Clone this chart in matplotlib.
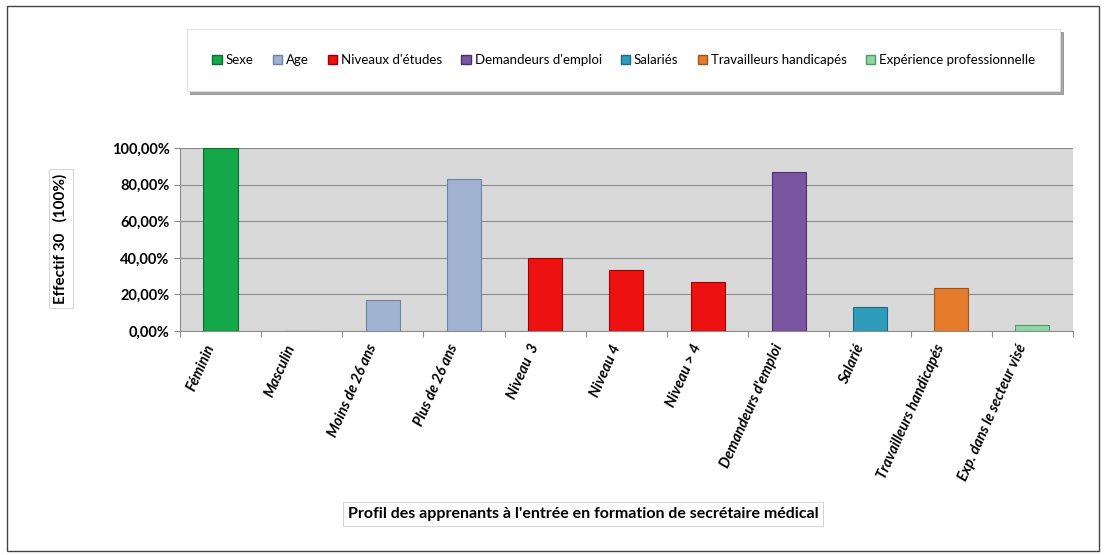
import numpy as np
import matplotlib.pyplot as plt
from matplotlib.patches import Patch, Rectangle
from matplotlib.ticker import FuncFormatter

plt.rcParams['font.family'] = ['Lato', 'DejaVu Sans']

# data
categories = ['Féminin', 'Masculin', 'Moins de 26 ans', 'Plus de 26 ans', 'Niveau  3',
              'Niveau 4', 'Niveau > 4', "Demandeurs d'emploi", 'Salarié',
              'Travailleurs handicapés', 'Exp. dans le secteur visé']
values = [100.0, 0.0, 16.67, 83.33, 40.0, 33.33, 26.67, 86.67, 13.33, 23.33, 3.33]
groups = ['Sexe', 'Sexe', 'Age', 'Age', "Niveaux d'études", "Niveaux d'études",
          "Niveaux d'études", "Demandeurs d'emploi", 'Salariés',
          'Travailleurs handicapés', 'Expérience professionnelle']
group_names = ['Sexe', 'Age', "Niveaux d'études", "Demandeurs d'emploi", 'Salariés',
               'Travailleurs handicapés', 'Expérience professionnelle']
group_colors = {'Sexe': '#14a84a', 'Age': '#9fb2cf', "Niveaux d'études": '#ee1111',
                "Demandeurs d'emploi": '#7a56a0', 'Salariés': '#2f9cbc',
                'Travailleurs handicapés': '#e47c2c', 'Expérience professionnelle': '#8fd6a2'}
edge_colors = {'Sexe': '#0b6e30', 'Age': '#6f82a0', "Niveaux d'études": '#a00000',
               "Demandeurs d'emploi": '#4c3070', 'Salariés': '#1c6a82',
               'Travailleurs handicapés': '#a0541a', 'Expérience professionnelle': '#4f9a64'}

fig = plt.figure(figsize=(11.06, 5.55), dpi=100)
# outer frame
fig.patches.append(Rectangle((0.006, 0.008), 0.988, 0.982, transform=fig.transFigure,
                             fill=False, edgecolor='#444444', linewidth=1))

ax = fig.add_axes([0.1627, 0.4036, 0.8074, 0.3297])
x = np.arange(len(categories))
ax.bar(x, values, width=0.42,
       color=[group_colors[g] for g in groups],
       edgecolor=[edge_colors[g] for g in groups], linewidth=0.8, zorder=3)

ax.set_facecolor('#d9d9d9')
ax.set_xlim(-0.5, len(categories) - 0.5)
ax.set_ylim(0, 100)
ax.set_yticks(np.arange(0, 101, 20))
ax.yaxis.set_major_formatter(FuncFormatter(lambda v, p: f'{v:.2f}%'.replace('.', ',')))
ax.grid(axis='y', color='#8c8c8c', linewidth=0.8, zorder=0)
ax.set_xticks(np.arange(-0.5, len(categories), 1), minor=False)
ax.set_xticklabels([])
ax.set_xticks(x - 0.2, minor=True)
ax.set_xticklabels(categories, minor=True, rotation=66, ha='right', va='top',
                   rotation_mode='anchor', fontsize=10.5, fontweight='bold', style='italic')
ax.tick_params(axis='x', which='minor', length=0, pad=8)
ax.tick_params(axis='x', which='major', length=4, color='#8c8c8c')
ax.tick_params(axis='y', labelsize=10.5, length=4, color='#8c8c8c')
for lbl in ax.get_yticklabels():
    lbl.set_fontweight('bold')
for s in ['top', 'right']:
    ax.spines[s].set_visible(False)
ax.spines['left'].set_color('#8c8c8c')
ax.spines['bottom'].set_color('#8c8c8c')

# legend
handles = [Patch(facecolor=group_colors[g], edgecolor=edge_colors[g]) for g in group_names]
leg = fig.legend(handles, group_names, loc='center', bbox_to_anchor=(0.564, 0.892),
                 ncol=7, frameon=True, fontsize=9.5, handlelength=0.7, handleheight=0.7,
                 handletextpad=0.3, columnspacing=1.45, borderpad=1.9, fancybox=False,
                 shadow=True, edgecolor='#dddddd')
leg.get_frame().set_linewidth(0.6)

# axis titles in boxes
box = dict(boxstyle='square,pad=0.3', facecolor='white', edgecolor='#cccccc', linewidth=0.6)
fig.text(0.055, 0.57, 'Effectif 30   (100%)', rotation=90, ha='center', va='center',
         fontsize=11, fontweight='bold', bbox=box)
fig.text(0.527, 0.074, "Profil des apprenants à l'entrée en formation de secrétaire médical",
         ha='center', va='center', fontsize=11.5, fontweight='bold', bbox=box)

fig.savefig('out.png', dpi=100)
